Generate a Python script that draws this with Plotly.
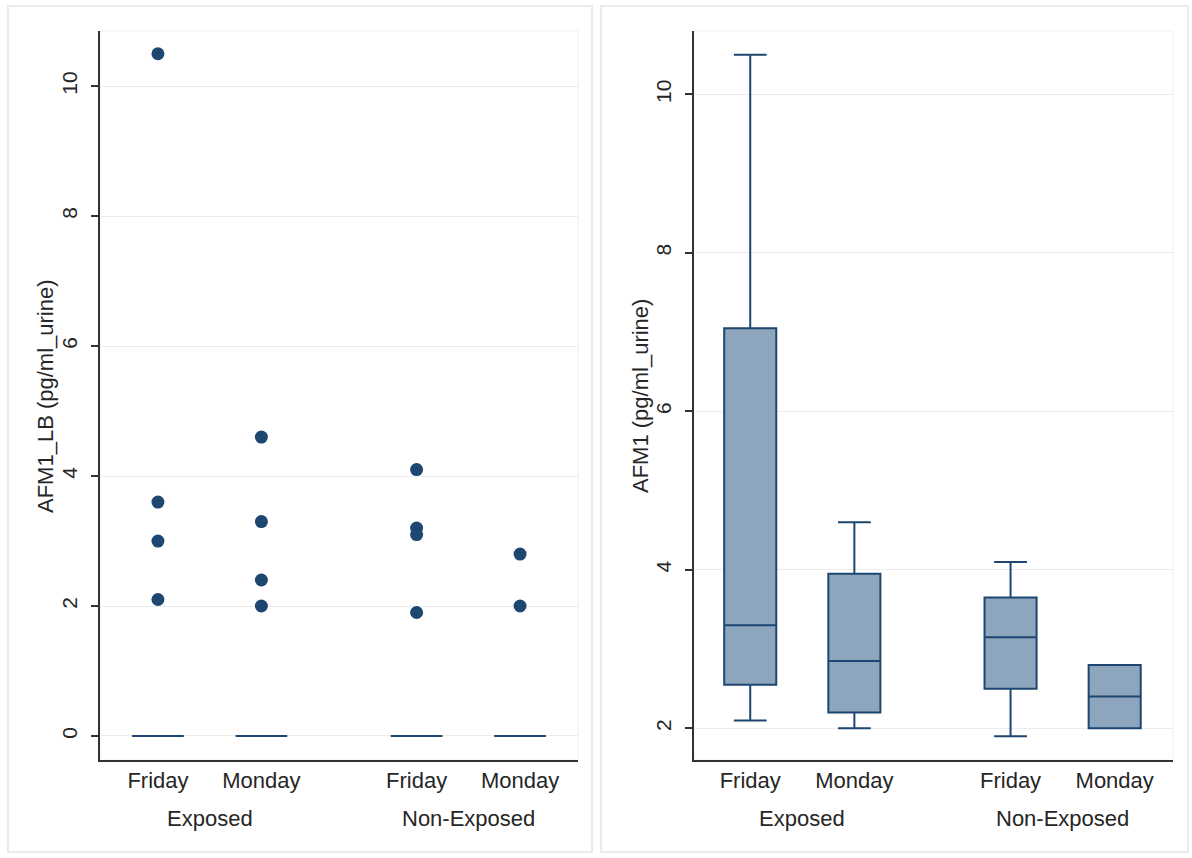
import plotly.graph_objects as go
import numpy as np

# ---------------- data ----------------
days = ["Friday", "Monday", "Friday", "Monday"]
groups = ["Exposed", "Exposed", "Non-Exposed", "Non-Exposed"]

# detected AFM1 values (pg/ml urine) per group/day
exposed_friday = [10.5, 3.6, 3.0, 2.1]
exposed_monday = [4.6, 3.3, 2.4, 2.0]
nonexp_friday = [4.1, 3.2, 3.1, 1.9]
nonexp_monday = [2.8, 2.0]
afm1_sets = [exposed_friday, exposed_monday, nonexp_friday, nonexp_monday]

# lower-bound (non-detects = 0) box summary: quartiles all collapse at 0
lb_q1 = [0, 0, 0, 0]
lb_median = [0, 0, 0, 0]
lb_q3 = [0, 0, 0, 0]
lb_lowerfence = [0, 0, 0, 0]
lb_upperfence = [0, 0, 0, 0]

left_ticks = [0, 2, 4, 6, 8, 10]
right_ticks = [2, 4, 6, 8, 10]

# ---------------- layout constants ----------------
W, H = 1192, 858
xpos = [1, 2, 3.5, 4.5]
NAVY = "#1d4670"
FILL = "#8ea5be"
AXC = "#333333"
GRID = "#ececec"
FONT = "Liberation Sans, Arial, sans-serif"
TXT = "#262626"


def px(x):
    return x / W


def py(y):
    return 1 - y / H


fig = go.Figure()

# ---- left panel: LB box (collapsed at 0) + detected values as dots ----
fig.add_trace(go.Box(
    x=xpos, q1=lb_q1, median=lb_median, q3=lb_q3,
    lowerfence=lb_lowerfence, upperfence=lb_upperfence,
    width=0.5, whiskerwidth=0.63, boxpoints=False,
    line=dict(color=NAVY, width=2), fillcolor=NAVY,
    xaxis="x", yaxis="y", showlegend=False, hoverinfo="skip"))

for p, vals in zip(xpos, afm1_sets):
    fig.add_trace(go.Scatter(
        x=[p] * len(vals), y=vals, mode="markers",
        marker=dict(size=13, color=NAVY),
        xaxis="x", yaxis="y", showlegend=False))

# ---- right panel: box plots of detected values ----
for p, vals in zip(xpos, afm1_sets):
    fig.add_trace(go.Box(
        x=[p] * len(vals), y=vals, quartilemethod="exclusive",
        width=0.5, whiskerwidth=0.63, boxpoints=False,
        line=dict(color=NAVY, width=2), fillcolor=FILL,
        xaxis="x2", yaxis="y2", showlegend=False))

ydom = [py(760), py(31)]
common_x = dict(
    tickvals=xpos, ticktext=days, ticks="", showgrid=False, zeroline=False,
    showline=True, linecolor=AXC, linewidth=2,
    tickfont=dict(size=22, color=TXT, family=FONT), fixedrange=True)
common_y = dict(
    ticks="outside", ticklen=7, tickwidth=1.5, tickcolor=AXC, tickangle=-90,
    ticklabelstandoff=6,
    showgrid=True, gridcolor=GRID, gridwidth=1, zeroline=False,
    showline=True, linecolor=AXC, linewidth=2,
    tickfont=dict(size=21, color=TXT, family=FONT), fixedrange=True)

fig.update_layout(
    width=W, height=H, margin=dict(l=0, r=0, t=0, b=0),
    paper_bgcolor="white", plot_bgcolor="white",
    font=dict(family=FONT, color=TXT),
    boxmode="overlay",
    xaxis=dict(domain=[px(100), px(578)], range=[0.44, 5.06], anchor="y", **common_x),
    yaxis=dict(domain=ydom, range=[-0.37, 10.85], anchor="x", tickvals=left_ticks, **common_y),
    xaxis2=dict(domain=[px(694), px(1173)], range=[0.46, 5.06], anchor="y2", **common_x),
    yaxis2=dict(domain=ydom, range=[1.6, 10.8], anchor="x2", tickvals=right_ticks, **common_y),
)

shapes = []
# panel frames
shapes.append(dict(type="rect", xref="paper", yref="paper", x0=px(8), x1=px(592), y0=py(852), y1=py(6),
                   line=dict(color="#ebebeb", width=2), layer="below"))
shapes.append(dict(type="rect", xref="paper", yref="paper", x0=px(601), x1=px(1188), y0=py(852), y1=py(6),
                   line=dict(color="#ebebeb", width=2), layer="below"))
# faint plot-region outlines
for xr, yr in (("x domain", "y domain"), ("x2 domain", "y2 domain")):
    shapes.append(dict(type="rect", xref=xr, yref=yr, x0=0, x1=1, y0=0, y1=1,
                       line=dict(color="#f1f1f1", width=1), layer="below"))
fig.update_layout(shapes=shapes)

annotations = []
# y-axis titles
annotations.append(dict(text="AFM1_LB (pg/ml_urine)", xref="paper", yref="paper",
                        x=px(45), y=py(396), textangle=-90, showarrow=False,
                        font=dict(size=22, color=TXT, family=FONT), xanchor="center", yanchor="middle"))
annotations.append(dict(text="AFM1 (pg/ml_urine)", xref="paper", yref="paper",
                        x=px(640), y=py(396), textangle=-90, showarrow=False,
                        font=dict(size=22, color=TXT, family=FONT), xanchor="center", yanchor="middle"))
# group labels under x ticks
group_names = list(dict.fromkeys(groups))
for xr in ("x", "x2"):
    for g in group_names:
        gx = float(np.mean([p for p, gg in zip(xpos, groups) if gg == g]))
        annotations.append(dict(text=g, xref=xr, yref="paper", x=gx, y=py(818),
                                showarrow=False, xanchor="center", yanchor="middle",
                                font=dict(size=22, color=TXT, family=FONT)))
fig.update_layout(annotations=annotations)

fig.write_html("out.html", config={"displayModeBar": False},
               post_script="document.body.style.margin='0';")
